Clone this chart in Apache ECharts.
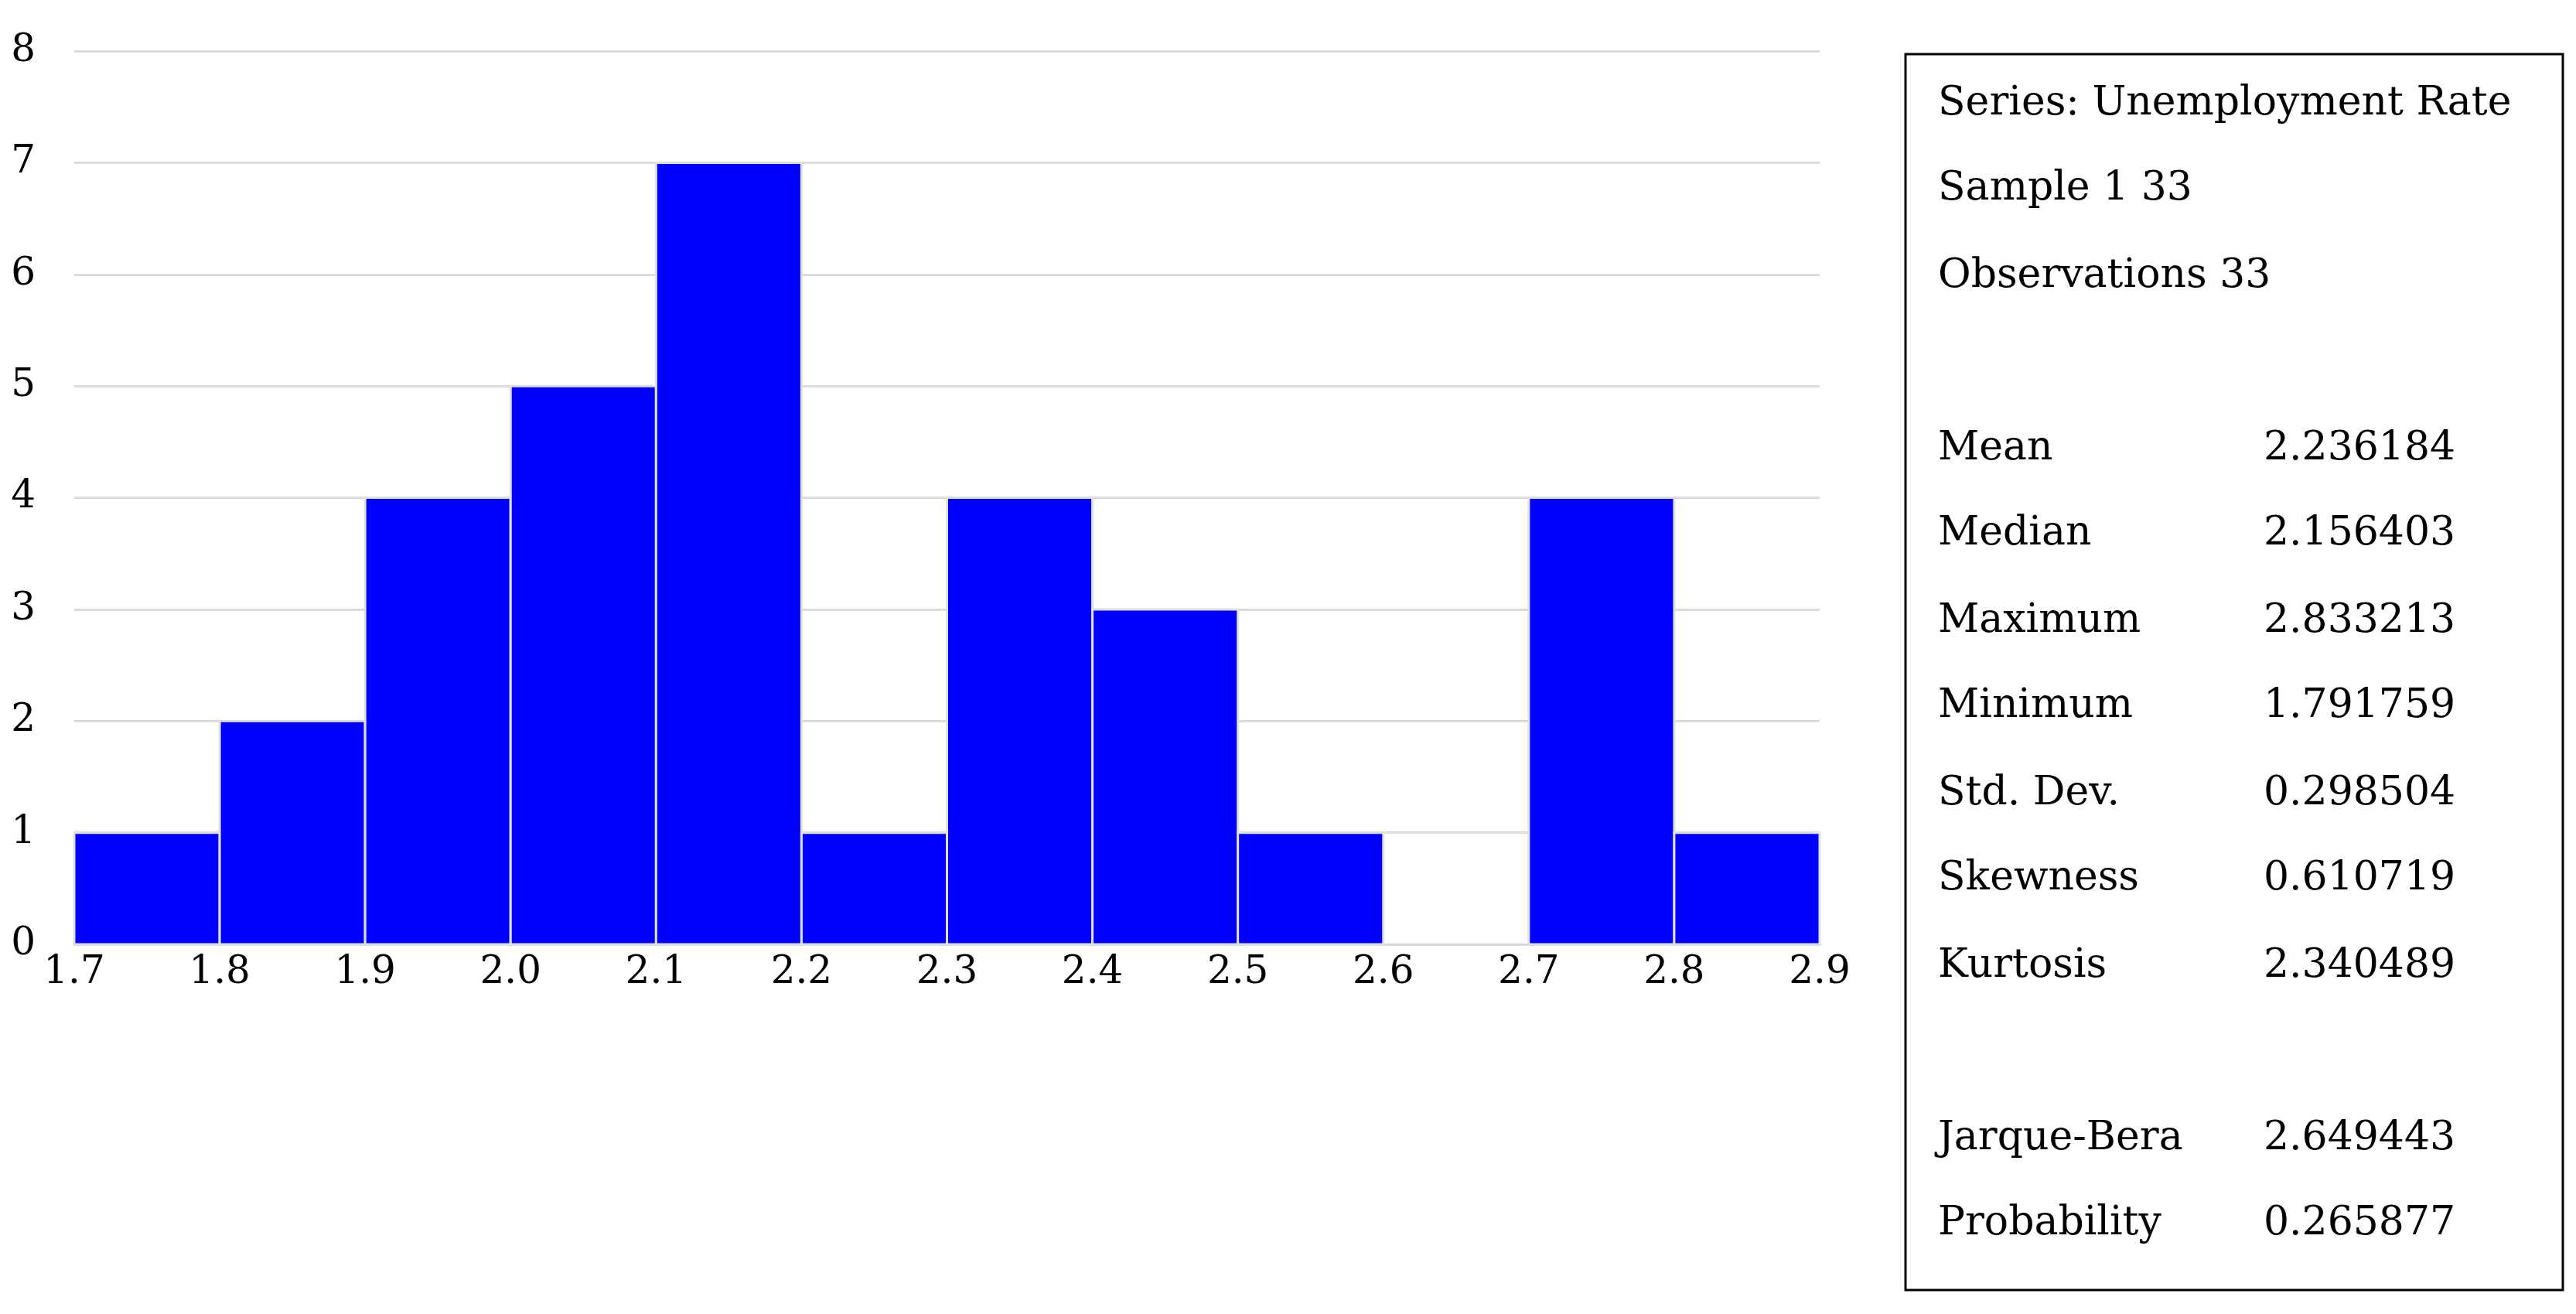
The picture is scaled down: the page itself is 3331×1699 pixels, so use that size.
<!DOCTYPE html>
<html><head><meta charset="utf-8">
<script src="https://cdn.jsdelivr.net/npm/echarts@6/dist/echarts.min.js"></script>
<style>html,body{margin:0;background:#fff}#main{width:3331px;height:1699px}</style>
</head><body><div id="main"></div>
<script>
var binStarts = [1.7, 1.8, 1.9, 2.0, 2.1, 2.2, 2.3, 2.4, 2.5, 2.6, 2.7, 2.8];
var counts = [1, 2, 4, 5, 7, 1, 4, 3, 1, 0, 4, 1];
var statLabels = ['Mean', 'Median', 'Maximum', 'Minimum', 'Std. Dev.', 'Skewness', 'Kurtosis', '', 'Jarque-Bera', 'Probability'];
var statValues = ['2.236184', '2.156403', '2.833213', '1.791759', '0.298504', '0.610719', '2.340489', '', '2.649443', '0.265877'];
var headerLines = ['Series: Unemployment Rate', 'Sample 1 33', 'Observations 33'];
var binWidth = 0.1;
var font = '"DejaVu Serif", "Liberation Serif", serif';

var myChart = echarts.init(document.getElementById('main'));
var data = binStarts.map(function (b, i) { return [b, b + binWidth, counts[i]]; });

var g = [{
  type: 'rect', shape: { x: 2464, y: 70, width: 850, height: 1598 },
  style: { fill: 'none', stroke: '#000', lineWidth: 3 }
}];
var ys = [134, 244, 357];
headerLines.forEach(function (t, i) {
  g.push({ type: 'text', x: 2506, y: ys[i], style: { text: t, font: '52px ' + font, fill: '#000', verticalAlign: 'middle' } });
});
var ys2 = [580, 690, 803, 913, 1026, 1136, 1249, 1360, 1472, 1582];
statLabels.forEach(function (t, i) {
  if (!t) return;
  g.push({ type: 'text', x: 2506, y: ys2[i], style: { text: t, font: '52px ' + font, fill: '#000', verticalAlign: 'middle' } });
  g.push({ type: 'text', x: 2927, y: ys2[i], style: { text: statValues[i], font: '52px ' + font, fill: '#000', verticalAlign: 'middle' } });
});

myChart.setOption({
  animation: false,
  grid: { left: 96, right: 3331 - 2353, top: 66, bottom: 1699 - 1221 },
  xAxis: {
    type: 'value', min: 1.7, max: 2.9, interval: 0.1,
    axisLine: { show: true, lineStyle: { color: '#d8d8d8', width: 3 } },
    axisTick: { show: false }, splitLine: { show: false },
    axisLabel: {
      fontFamily: font, fontSize: 50, color: '#000', margin: 12,
      formatter: function (v) { return v.toFixed(1); }
    }
  },
  yAxis: {
    type: 'value', min: 0, max: 8, interval: 1,
    axisLine: { show: false }, axisTick: { show: false },
    splitLine: { lineStyle: { color: '#dcdcdc', width: 3 } },
    axisLabel: { fontFamily: font, fontSize: 50, color: '#000', margin: 50, padding: [0, 0, 24, 0] }
  },
  series: [{
    type: 'custom',
    data: data,
    encode: { x: [0, 1], y: 2 },
    renderItem: function (params, api) {
      if (api.value(2) === 0) return null;
      var p0 = api.coord([api.value(0), api.value(2)]);
      var p1 = api.coord([api.value(1), 0]);
      return {
        type: 'rect',
        shape: { x: p0[0], y: p0[1], width: p1[0] - p0[0], height: p1[1] - p0[1] },
        style: { fill: '#0000ff', stroke: '#e0e0e0', lineWidth: 3 }
      };
    }
  }],
  graphic: g
});
</script></body></html>
